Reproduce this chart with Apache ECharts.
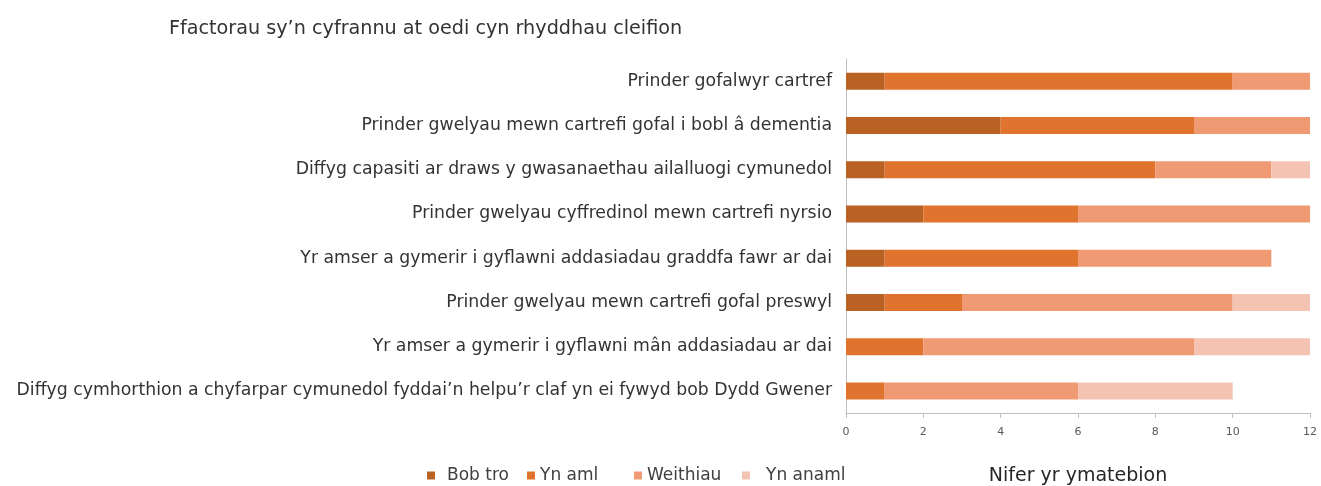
<!DOCTYPE html>
<html>
<head>
<meta charset="utf-8">
<script src="https://cdn.jsdelivr.net/npm/echarts@6/dist/echarts.min.js"></script>
<style>
  html, body { margin: 0; padding: 0; background: #fff; }
  #chart { width: 1321px; height: 486px; }
</style>
</head>
<body>
<div id="chart"></div>
<script>
// categories, top to bottom
const categories = [
  'Prinder gofalwyr cartref',
  'Prinder gwelyau mewn cartrefi gofal i bobl â dementia',
  'Diffyg capasiti ar draws y gwasanaethau ailalluogi cymunedol',
  'Prinder gwelyau cyffredinol mewn cartrefi nyrsio',
  'Yr amser a gymerir i gyflawni addasiadau graddfa fawr ar dai',
  'Prinder gwelyau mewn cartrefi gofal preswyl',
  'Yr amser a gymerir i gyflawni mân addasiadau ar dai',
  'Diffyg cymhorthion a chyfarpar cymunedol fyddai\u2019n helpu\u2019r claf yn ei fywyd bob Dydd Gwener'
];

const seriesNames = ['Bob tro', 'Yn aml', 'Weithiau', 'Yn anaml'];
const bobTro   = [1, 4, 1, 2, 1, 1, 0, 0];
const ynAml    = [9, 5, 7, 4, 5, 2, 2, 1];
const weithiau = [2, 3, 3, 6, 5, 7, 7, 5];
const ynAnaml  = [0, 0, 1, 0, 0, 2, 3, 4];

const xTicks = [0, 2, 4, 6, 8, 10, 12];

const chart = echarts.init(document.getElementById('chart'));

const font = 'DejaVu Sans, sans-serif';
const colors = ['#BA6124', '#E0742E', '#F09A73', '#F5C3B1'];

const mk = (name, data, color) => ({
  name: name,
  type: 'bar',
  stack: 'total',
  barWidth: 17,
  data: data,
  itemStyle: { color: color },
  emphasis: { disabled: true }
});

// legend entries are spaced unevenly in the original, so one legend per item
const legendLeft = [427, 527, 634, 742];
const legendPad = [7, 0, 0, 11];
const legends = seriesNames.map((n, i) => ({
  data: [n],
  left: legendLeft[i],
  top: 467,
  padding: 0,
  icon: 'rect',
  itemWidth: 8,
  itemHeight: 8,
  textStyle: { fontSize: 17, color: '#404040', fontFamily: font, padding: [0, 0, 0, legendPad[i]] }
}));

chart.setOption({
  animation: false,
  textStyle: { fontFamily: font },
  title: {
    text: 'Ffactorau sy\u2019n cyfrannu at oedi cyn rhyddhau cleifion',
    left: 164,
    top: 15,
    textStyle: { fontSize: 19.2, fontWeight: 'normal', color: '#333', fontFamily: font }
  },
  legend: legends,
  grid: { left: 846, right: 11, top: 59, bottom: 73, containLabel: false, outerBoundsMode: 'none' },
  xAxis: {
    type: 'value',
    min: 0,
    max: 12,
    interval: xTicks[1] - xTicks[0],
    name: 'Nifer yr ymatebion',
    nameLocation: 'middle',
    nameGap: 54,
    nameTextStyle: { fontSize: 19, color: '#262626', fontFamily: font },
    axisLine: { show: true, lineStyle: { color: '#bfbfbf' } },
    axisTick: { show: true, length: 5, lineStyle: { color: '#bfbfbf' } },
    axisLabel: { fontSize: 11, color: '#595959', margin: 14 },
    splitLine: { show: false }
  },
  yAxis: {
    type: 'category',
    inverse: true,
    data: categories,
    axisLine: { show: true, lineStyle: { color: '#bfbfbf' } },
    axisTick: { show: false },
    axisLabel: { fontSize: 17.3, color: '#333', margin: 14 }
  },
  series: [
    mk(seriesNames[0], bobTro, colors[0]),
    mk(seriesNames[1], ynAml, colors[1]),
    mk(seriesNames[2], weithiau, colors[2]),
    mk(seriesNames[3], ynAnaml, colors[3])
  ]
});
</script>
</body>
</html>
